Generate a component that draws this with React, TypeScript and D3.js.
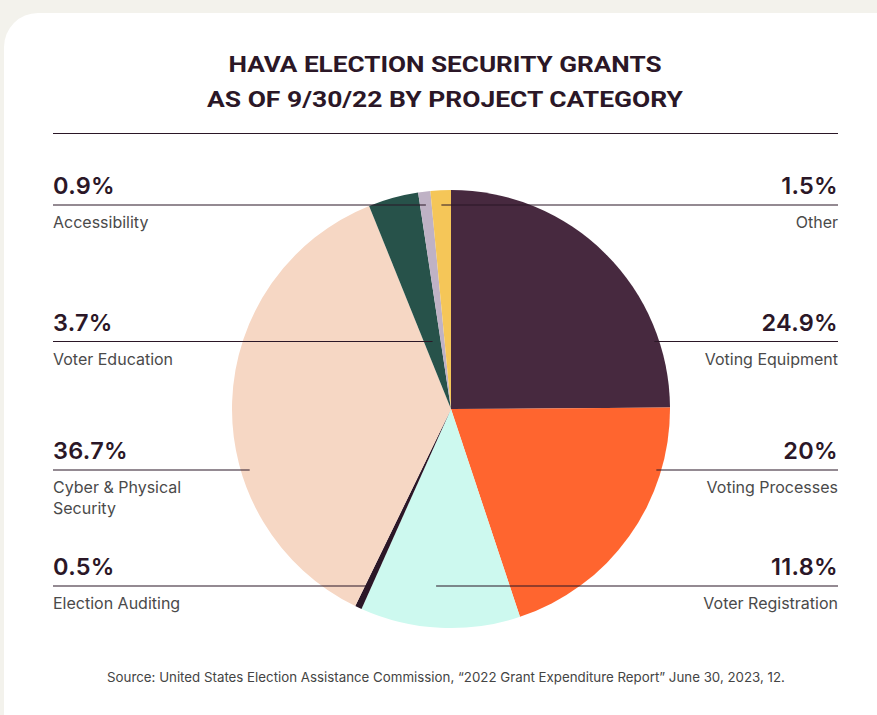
import React from "react";
import * as d3 from "d3";

const categories = [
  "Voting Equipment",
  "Voting Processes",
  "Voter Registration",
  "Election Auditing",
  "Cyber & Physical Security",
  "Voter Education",
  "Accessibility",
  "Other",
];
const values = [24.9, 20, 11.8, 0.5, 36.7, 3.7, 0.9, 1.5];
const valueLabels = ["24.9%", "20%", "11.8%", "0.5%", "36.7%", "3.7%", "0.9%", "1.5%"];
const labelLines = [
  ["Voting Equipment"],
  ["Voting Processes"],
  ["Voter Registration"],
  ["Election Auditing"],
  ["Cyber & Physical", "Security"],
  ["Voter Education"],
  ["Accessibility"],
  ["Other"],
];
const sides = ["right", "right", "right", "left", "left", "left", "left", "right"];
const rows = [1, 2, 3, 3, 2, 1, 0, 0];
const palette = ["#47293f", "#ff652f", "#cdf9ef", "#2b1727", "#f6d7c4", "#27524a", "#bfb2c5", "#f5c658"];

const titleLines = ["HAVA ELECTION SECURITY GRANTS", "AS OF 9/30/22 BY PROJECT CATEGORY"];
const sourceText =
  "Source: United States Election Assistance Commission, \u201c2022 Grant Expenditure Report\u201d June 30, 2023, 12.";

const W = 877;
const H = 715;
const cx = 451;
const cy = 409;
const R = 219;
const rowY = [205, 341.5, 470, 586];
const leftX = 53;
const rightX = 838;
const dark = "#2b1727";

export default function App() {
  const pie = d3
    .pie<number>()
    .sort(null)
    .value((d) => d)
    .startAngle(0)
    .endAngle(2 * Math.PI);
  const arcs = pie(values);
  const arcGen = d3.arc<d3.PieArcDatum<number>>().innerRadius(0).outerRadius(R);

  const endpoints = arcs.map((a, i) => {
    const y = rowY[rows[i]];
    const mid = (a.startAngle + a.endAngle) / 2;
    const dy = cy - y;
    const edgeHalf = Math.sqrt(R * R - dy * dy);
    if (values[i] > 15) {
      return sides[i] === "left" ? cx - edgeHalf + 9 : cx + edgeHalf - 5;
    }
    const t = dy / Math.cos(mid);
    return cx + t * Math.sin(mid) - (sides[i] === "right" && values[i] > 5 ? 6 : 0);
  });

  return (
    <svg
      width={W}
      height={H}
      style={{ position: "fixed", left: 0, top: 0, display: "block" }}
      fontFamily="Inter, 'Noto Sans', sans-serif"
    >
      <rect x={0} y={0} width={W} height={H} fill="#f3f2ec" />
      <rect x={4} y={13} width={W + 40} height={H + 40} rx={34} ry={34} fill="#ffffff" />
      {titleLines.map((t, i) => (
        <text
          key={t}
          x={445}
          y={72 + i * 35}
          textAnchor="middle"
          fontFamily="Roboto, Inter, sans-serif"
          fontWeight={700}
          fontSize={22}
          fill={dark}
          textLength={i === 0 ? 433 : 476}
          lengthAdjust="spacingAndGlyphs"
        >
          {t}
        </text>
      ))}
      <line x1={53} x2={838} y1={133.5} y2={133.5} stroke={dark} strokeWidth={1.1} />
      <g transform={`translate(${cx},${cy})`}>
        {arcs.map((a, i) => (
          <path key={categories[i]} d={arcGen(a) || ""} fill={palette[i]} />
        ))}
      </g>
      {arcs.map((a, i) => {
        const y = rowY[rows[i]];
        const left = sides[i] === "left";
        const x0 = left ? leftX : endpoints[i];
        const x1 = left ? endpoints[i] : rightX;
        const tx = left ? leftX : rightX;
        const anchor = left ? "start" : "end";
        return (
          <g key={"lab" + i}>
            <line x1={x0} x2={x1} y1={y} y2={y} stroke={dark} strokeWidth={1.1} />
            <text
              x={tx}
              y={y - 11}
              textAnchor={anchor}
              fontSize={23.5}
              fontWeight={600}
              letterSpacing={0.3}
              fill={dark}
            >
              {valueLabels[i]}
            </text>
            {labelLines[i].map((l, j) => (
              <text
                key={l}
                x={tx}
                y={y + 23 + j * 21}
                textAnchor={anchor}
                fontSize={16}
                fill="#4a4a4a"
              >
                {l}
              </text>
            ))}
          </g>
        );
      })}
      <text x={446} y={682} textAnchor="middle" fontSize={13.3} fill="#444444">
        {sourceText}
      </text>
    </svg>
  );
}
